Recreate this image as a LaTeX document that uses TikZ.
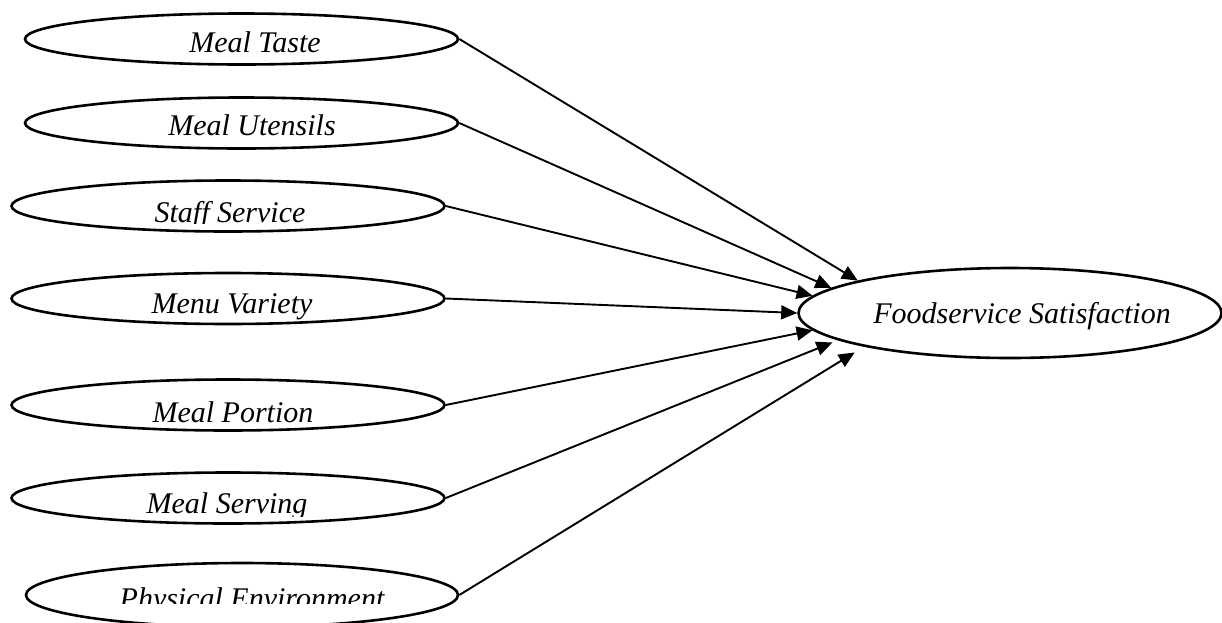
\documentclass[tikz,border=0pt]{standalone}
\usepackage{fontspec}
\setmainfont{Liberation Serif}
\usetikzlibrary{shapes.geometric,arrows.meta}
\begin{document}
\begin{tikzpicture}[x=0.5pt,y=-0.5pt,
  factor/.style={ellipse,draw,line width=1.3pt,inner sep=0pt,minimum width=216.5pt,minimum height=25.5pt},
  bigfactor/.style={ellipse,draw,line width=1.3pt,inner sep=0pt,minimum width=211.5pt,minimum height=45pt},
  lbl/.style={anchor=base,inner sep=0pt,font=\fontsize{15}{18}\selectfont\itshape},
  link/.style={line width=0.95pt,-{Triangle[length=8pt,width=7pt]}}]
\useasboundingbox (0,0) rectangle (1222,622);
% ellipses
\node[factor] (taste) at (241.5,39) {};
\node[factor] (utensils) at (241.5,123) {};
\node[factor] (staff) at (228,206) {};
\node[factor] (menu) at (228,298.5) {};
\node[factor] (portion) at (228,405) {};
\node[factor] (serving) at (228,498) {};
\node[factor,minimum width=216pt,minimum height=32pt] (phys) at (242,595) {};
\node[bigfactor] (fs) at (1010,313) {};
% labels
\node[lbl] (tTaste) at (255,52) {Meal Taste};
\node[lbl] (tUtensils) at (252,135) {Meal Utensils};
\begin{scope}
\clip (100,180) rectangle (360,223);
\node[lbl] (tStaff) at (230,222) {Staff Service};
\end{scope}
\begin{scope}
\clip (100,270) rectangle (360,322);
\node[lbl] (tMenu) at (232,313) {Menu Variety};
\end{scope}
\node[lbl] (tPortion) at (233,422) {Meal Portion};
\begin{scope}
\clip (100,475) rectangle (360,516);
\node[lbl] (tServing) at (227,513) {Meal Serving};
\end{scope}
\begin{scope}
\clip (100,570) rectangle (400,603);
\node[lbl] (tPhys) at (252,608) {Physical Environment};
\end{scope}
\node[lbl] (tFs) at (1022,323) {Foodservice Satisfaction};
% connectors
\draw[link] (taste.east) -- (fs.168.2);
\draw[link] (utensils.east) -- (fs.172.6);
\draw[link] (staff.east) -- (fs.175.6);
\draw[link] (menu.east) -- (fs.west);
\draw[link] (portion.east) -- (fs.185.6);
\draw[link,shorten >=3pt] (serving.east) -- (fs.189.5);
\draw[link,shorten >=5.5pt] (phys.east) -- (fs.193.1);
\end{tikzpicture}
\end{document}
